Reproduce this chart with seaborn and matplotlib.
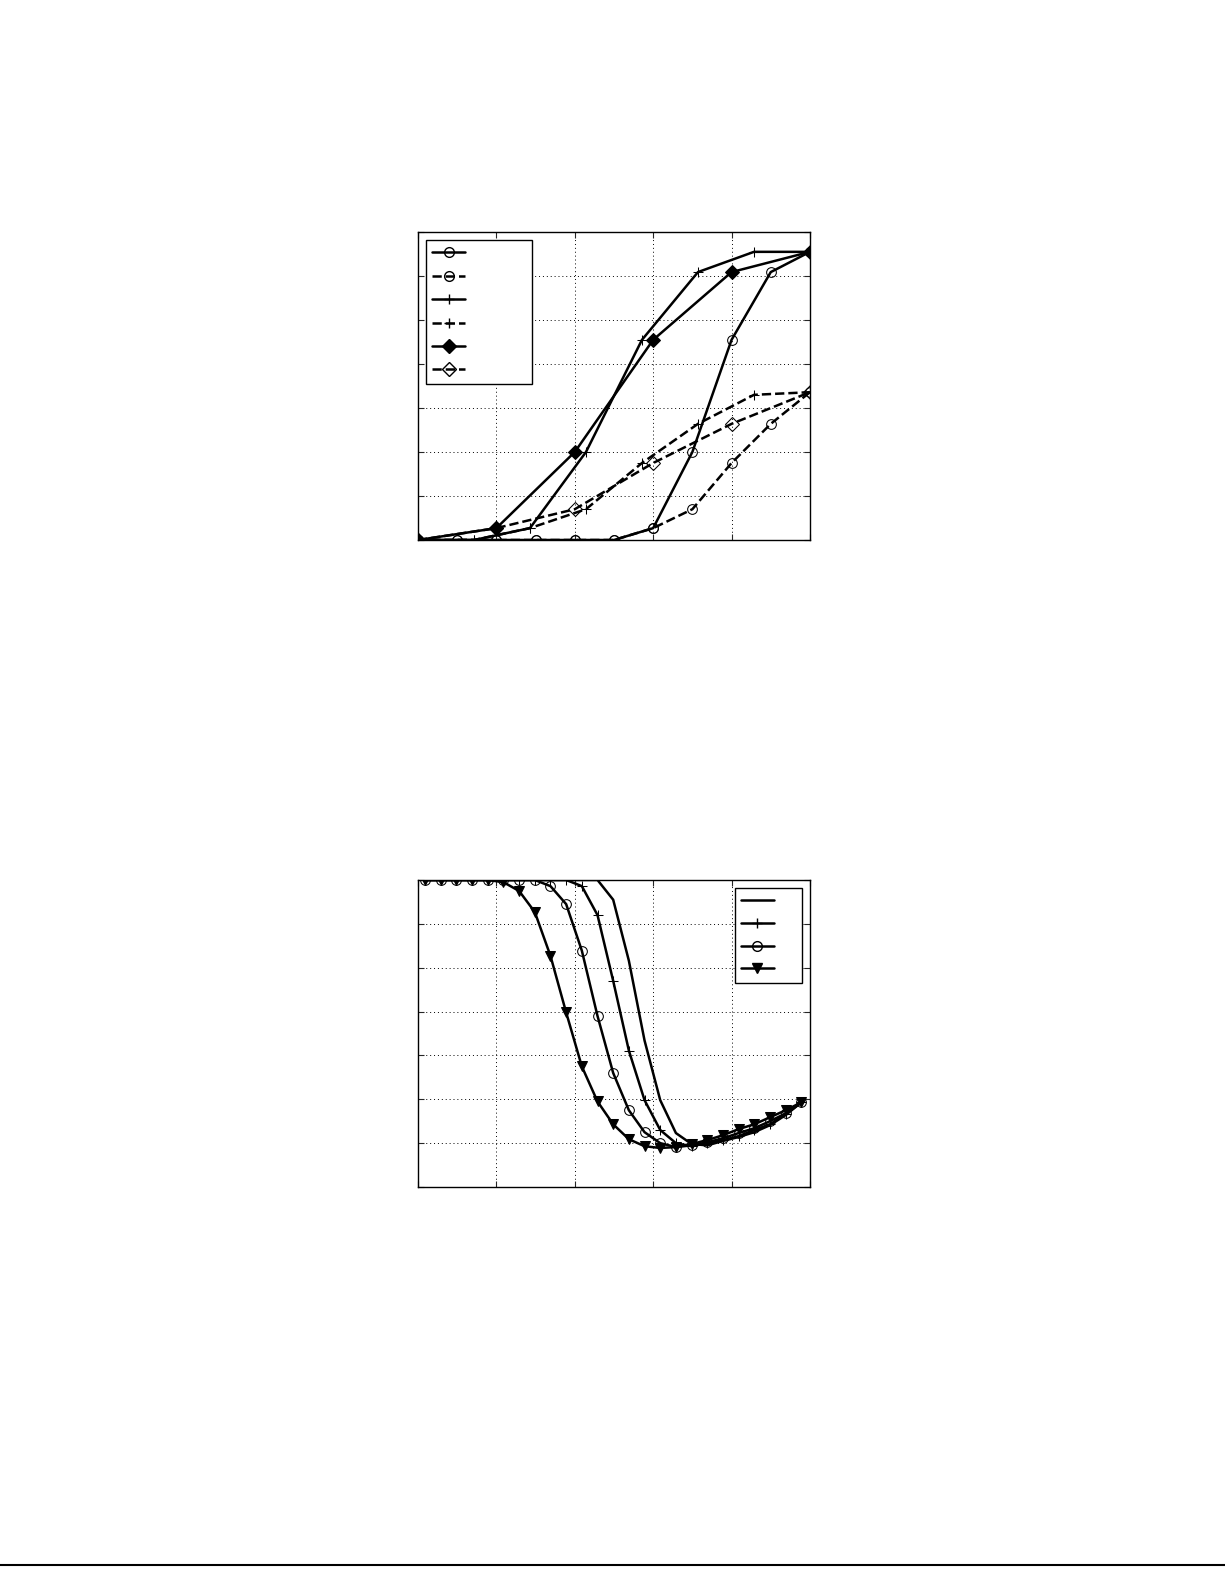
import numpy as np
import matplotlib
matplotlib.use("Agg")
import matplotlib.pyplot as plt
import seaborn as sns
from matplotlib.lines import Line2D

sns.set_style("white")

# ---- top chart data ----
x_circ = list(range(0, 11))
y_circ_solid = [0, 0, 0, 0, 0, 0, 0.27, 2.0, 4.55, 6.09, 6.55]
y_circ_dash = [0, 0, 0, 0, 0, 0, 0.27, 0.7, 1.75, 2.64, 3.36]
x_plus = [0, 10/7, 20/7, 30/7, 40/7, 50/7, 60/7, 10]
y_plus_solid = [0, 0, 0.27, 2.0, 4.55, 6.09, 6.55, 6.55]
y_plus_dash = [0, 0, 0.27, 0.7, 1.75, 2.64, 3.3, 3.36]
x_diam = [0, 2, 4, 6, 8, 10]
y_diam_solid = [0, 0.27, 2.0, 4.55, 6.09, 6.55]
y_diam_dash = [0, 0.27, 0.7, 1.75, 2.64, 3.36]

# ---- bottom chart data ----
x_b = list(range(25))
y_tri = [7, 7, 7, 7, 7, 6.95, 6.75, 6.27, 5.27, 3.98, 2.75, 1.95, 1.43, 1.09, 0.93, 0.89,
         0.91, 0.98, 1.07, 1.18, 1.32, 1.43, 1.59, 1.75, 1.93]
y_circ_b = [7, 7, 7, 7, 7, 7, 7, 7, 6.86, 6.45, 5.39, 3.9, 2.6, 1.75, 1.25, 1.0,
            0.91, 0.95, 1.02, 1.11, 1.23, 1.34, 1.5, 1.68, 1.93]
y_plus_b = [7, 7, 7, 7, 7, 7, 7, 7, 7, 7, 6.86, 6.2, 4.7, 3.11, 1.98, 1.3,
            1.0, 0.93, 1.0, 1.07, 1.16, 1.3, 1.43, 1.66, 1.93]
y_plain_b = [7, 7, 7, 7, 7, 7, 7, 7, 7, 7, 7, 7, 6.55, 5.16, 3.34, 1.98,
             1.23, 0.98, 0.95, 1.05, 1.14, 1.25, 1.41, 1.64, 1.93]

fig = plt.figure(figsize=(12.25, 15.85), dpi=100)
ax1 = fig.add_axes([0.3412, 0.6593, 0.32, 0.1943])
ax2 = fig.add_axes([0.3412, 0.2511, 0.32, 0.1937])

k = dict(color="black", lw=1.8, markersize=7)
sns.lineplot(x=x_circ, y=y_circ_solid, ax=ax1, marker="o", mfc="none", mec="black", linestyle="-", **k)
sns.lineplot(x=x_circ, y=y_circ_dash, ax=ax1, marker="o", mfc="none", mec="black", linestyle="--", **k)
sns.lineplot(x=x_plus, y=y_plus_solid, ax=ax1, marker="+", mec="black", linestyle="-", **k)
sns.lineplot(x=x_plus, y=y_plus_dash, ax=ax1, marker="+", mec="black", linestyle="--", **k)
sns.lineplot(x=x_diam, y=y_diam_solid, ax=ax1, marker="D", mfc="black", mec="black", linestyle="-", **k)
sns.lineplot(x=x_diam, y=y_diam_dash, ax=ax1, marker="D", mfc="none", mec="black", linestyle="--", **k)
ax1.set_xlim(0, 10)
ax1.set_ylim(0, 7)
ax1.set_xticks([0, 2, 4, 6, 8, 10])
ax1.set_yticks(range(8))

h1 = [Line2D([], [], color="black", lw=1.8, ls=ls, marker=m, mfc=fc, mec="black", markersize=7)
      for ls, m, fc in [("-", "o", "none"), ("--", "o", "none"), ("-", "+", "none"),
                        ("--", "+", "none"), ("-", "D", "black"), ("--", "D", "none")]]
ax1.legend(h1, ["          "] * 6, loc="upper left", frameon=True, fancybox=False,
           edgecolor="black", handlelength=2.2, borderpad=0.4, labelspacing=0.55,
           framealpha=1, fontsize=11)

k2 = dict(color="black", lw=1.8, markersize=7)
sns.lineplot(x=x_b, y=y_plain_b, ax=ax2, linestyle="-", **k2)
sns.lineplot(x=x_b, y=y_plus_b, ax=ax2, marker="+", mec="black", linestyle="-", **k2)
sns.lineplot(x=x_b, y=y_circ_b, ax=ax2, marker="o", mfc="none", mec="black", linestyle="-", **k2)
sns.lineplot(x=x_b, y=y_tri, ax=ax2, marker="v", mfc="black", mec="black", linestyle="-", **k2)
ax2.set_xlim(-0.45, 24.55)
ax2.set_ylim(0, 7)
ax2.set_xticks([-0.45 + 5 * i for i in range(6)])
ax2.set_yticks(range(8))
h2 = [Line2D([], [], color="black", lw=1.8, marker=m, mfc=fc, mec="black", markersize=7)
      for m, fc in [("", "none"), ("+", "none"), ("o", "none"), ("v", "black")]]
ax2.legend(h2, ["  "] * 4, loc="upper right", frameon=True, fancybox=False,
           edgecolor="black", handlelength=2.2, borderpad=0.4, labelspacing=0.5,
           framealpha=1, fontsize=11)

for ax in (ax1, ax2):
    ax.grid(True, color="black", linestyle=(0, (1, 3)), lw=0.7)
    ax.tick_params(direction="in", length=4, labelbottom=False, labelleft=False,
                   bottom=True, left=True, top=True, right=True)
    for s in ax.spines.values():
        s.set_color("black")
        s.set_linewidth(1.0)
    ax.set_xlabel("")
    ax.set_ylabel("")

fig.add_artist(Line2D([0.0, 1.0], [1 - 1565 / 1585] * 2, color="black", lw=1.5))
fig.savefig("out.png", dpi=100)
